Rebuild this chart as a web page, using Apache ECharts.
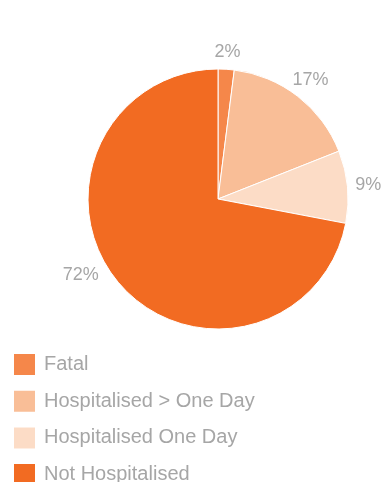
<!DOCTYPE html>
<html>
<head>
<meta charset="utf-8">
<script src="https://cdn.jsdelivr.net/npm/echarts@6/dist/echarts.min.js"></script>
<style>
  html, body { margin: 0; padding: 0; background: #ffffff; }
  #chart { width: 384px; height: 482px; }
</style>
</head>
<body>
<div id="chart"></div>
<script>
// Injury outcome shares (percent)
const categories = ['Fatal', 'Hospitalised > One Day', 'Hospitalised One Day', 'Not Hospitalised'];
const shares = [2, 17, 9, 72];
const sliceColors = ['#F5874A', '#F9BE97', '#FCDCC6', '#F26B22'];

const FONT = '"Liberation Sans", Arial, sans-serif';
const TEXT_GREY = '#a6a6a6';
const CX = 218, CY = 199, R = 130;
const LABEL_R = 151;
// small nudges so the labels sit where they read best beside the pie
const LABEL_NUDGE = [[0, 4], [0, 0], [0, 0], [-21, -20]];

const total = shares.reduce((a, b) => a + b, 0);

// mid-angle of each slice, measured clockwise from 12 o'clock
function midAngle(i) {
  let before = 0;
  for (let k = 0; k < i; k++) before += shares[k];
  return ((before + shares[i] / 2) / total) * Math.PI * 2;
}

const chart = echarts.init(document.getElementById('chart'), null, { renderer: 'canvas' });

chart.setOption({
  animation: false,
  color: sliceColors,
  legend: {
    orient: 'vertical',
    left: 12,
    top: 352,
    height: 200,
    padding: 0,
    icon: 'rect',
    itemWidth: 23,
    itemHeight: 23,
    itemGap: 11.7,
    selectedMode: false,
    textStyle: { fontFamily: FONT, fontSize: 20, color: TEXT_GREY, padding: [0, 0, 0, 3] },
    data: categories
  },
  series: [{
    type: 'pie',
    center: [CX, CY],
    radius: [0, R],
    startAngle: 90,
    clockwise: true,
    silent: true,
    itemStyle: { borderColor: '#ffffff', borderWidth: 1 },
    label: {
      show: true,
      position: 'outside',
      overflow: 'none',
      formatter: '{c}%',
      fontFamily: FONT,
      fontSize: 18,
      color: TEXT_GREY
    },
    labelLine: { show: false },
    labelLayout: function (params) {
      const i = params.dataIndex;
      const a = midAngle(i);
      return {
        x: CX + Math.sin(a) * LABEL_R + LABEL_NUDGE[i][0],
        y: CY - Math.cos(a) * LABEL_R + LABEL_NUDGE[i][1],
        align: 'center',
        verticalAlign: 'middle'
      };
    },
    data: categories.map((name, i) => ({ name: name, value: shares[i] }))
  }]
});
</script>
</body>
</html>
